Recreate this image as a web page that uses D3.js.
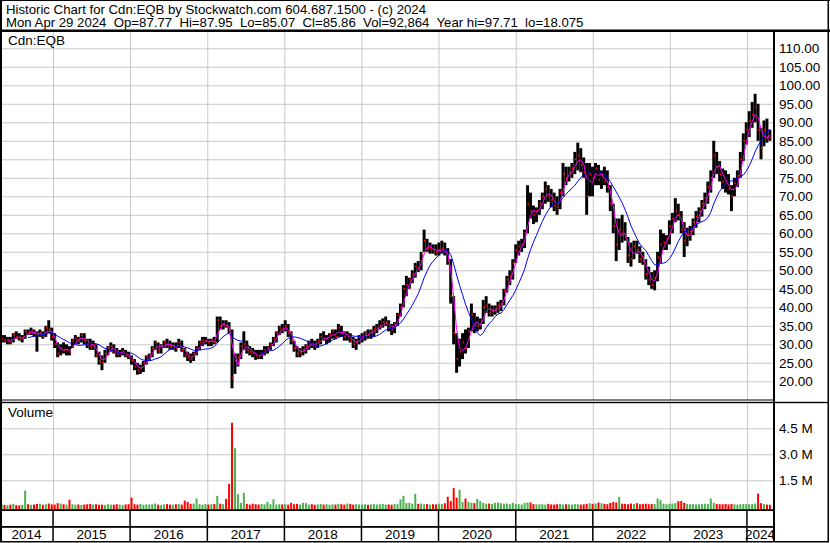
<!DOCTYPE html>
<html>
<head>
<meta charset="utf-8">
<script src="https://cdn.jsdelivr.net/npm/d3@7.9.0/dist/d3.min.js"></script>
<style>
  html, body { margin: 0; padding: 0; background: #fff; }
  svg { display: block; font-family: Arial, 'Liberation Sans', sans-serif; }
  .grid line { stroke: #c8c8c8; }
  .grid path { display: none; }
  .axis path, .axis line { display: none; }
  .axis text { fill: #000; font-size: 13.5px; }
</style>
</head>
<body>
<div id="chart"></div>
<script>
const title = 'Historic Chart for Cdn:EQB by Stockwatch.com 604.687.1500 - (c) 2024';
const quote = 'Mon Apr 29 2024  Op=87.77  Hi=87.95  Lo=85.07  Cl=85.86  Vol=92,864  Year hi=97.71  lo=18.075';
const symbol = 'Cdn:EQB';

const firstDay = new Date(2014, 3, 25);
const lastDay = new Date(2024, 3, 29);
const binDays = 14; // one bar per two weeks

const years = [2014, 2015, 2016, 2017, 2018, 2019, 2020, 2021, 2022, 2023, 2024];
const priceTicks = [20, 25, 30, 35, 40, 45, 50, 55, 60, 65, 70, 75, 80, 85, 90, 95, 100, 105, 110];
const volumeTicks = [1.5, 3.0, 4.5];

// [high, low, close] for each two-week bin
const p2014 = [
  [32.5, 30.5, 31.5], [32.5, 30.5, 31], [32, 30, 31], [32, 30, 30.5], [33, 30.5, 32.5],
  [33.5, 31.5, 32], [33, 31, 31.5], [32.5, 30.5, 31.5], [34, 31.5, 33.5], [34, 32.5, 33],
  [34.5, 32.5, 33.5], [34, 32, 33], [33.5, 28, 32.5], [34, 32, 33], [33.5, 31.5, 32],
  [35, 32, 34.5], [36.5, 33, 34], [34.5, 31, 32]
];
const p2015 = [
  [33, 29, 30], [30.5, 26.5, 27.5], [30, 27, 29], [30.5, 27.5, 28.5], [30, 27, 28.5],
  [29.5, 27, 28], [31.5, 29, 31], [32.5, 30, 31.5], [32, 30, 31], [33, 30.5, 32.5],
  [33, 30, 31], [31.5, 29, 30], [31.5, 28.5, 29.5], [31, 28.5, 30], [30, 26.5, 27],
  [28, 24.5, 25.5], [27, 23, 25], [28.5, 25, 27.5], [29.5, 27, 29], [30.5, 28, 29.5],
  [30, 27.5, 28], [29, 26.5, 27.5], [28.5, 26.5, 27.5], [29, 27, 28], [28.5, 26.5, 27],
  [28, 26, 26.5]
];
const p2016 = [
  [27, 24.5, 25.5], [26, 23, 24], [25, 21.8, 23], [24.5, 22, 23.5], [25.5, 22.5, 25],
  [27, 24.5, 26.5], [27.5, 25.5, 27], [29.5, 26.5, 29], [31, 28.5, 30.5], [30.5, 27.5, 28.5],
  [30, 27.5, 29.5], [31, 29, 30.5], [31.5, 29, 30], [31, 28.5, 29.5], [30.5, 28.5, 29.5],
  [30.5, 28, 29], [31.5, 29, 30.5], [31, 28, 28.5], [29, 26.5, 27], [28, 25.5, 26.5],
  [27.5, 25, 26], [28, 25.5, 27.5], [29.5, 27, 29], [31, 28.5, 30.5], [32, 29.5, 31],
  [32, 30, 31]
];
const p2017 = [
  [31.5, 29.5, 30.5], [31.5, 29.5, 31], [32, 30, 30.5], [37.5, 30.5, 36.5], [37.5, 34, 35],
  [36.5, 34, 35.5], [36.5, 34.5, 35], [36, 33, 34], [34, 18.1, 21], [27.5, 22, 25.5],
  [27.5, 24, 26.5], [30.5, 26, 29.5], [33.5, 28.5, 30], [31, 27.5, 28.5], [29.5, 27, 28],
  [29, 26.5, 27.5], [28.5, 25.8, 27], [28.5, 26, 26.5], [28.5, 26, 27.5], [29.5, 27, 28.5],
  [29.5, 27.5, 29], [30.5, 28.5, 30], [32, 29.5, 31.5], [33.5, 30.5, 33], [35, 32.5, 34.5],
  [35.5, 33, 34]
];
const p2018 = [
  [36.5, 33.5, 35], [35.5, 32, 33], [33.5, 30, 31], [31, 28, 29], [29.5, 26.5, 27.5],
  [29, 26.5, 28], [29.5, 27, 28.5], [30, 27.5, 29.5], [31, 28.5, 30.5], [31.5, 29, 30],
  [31, 28.5, 29.5], [31.5, 29, 31], [33, 30, 32], [33.5, 31, 31.5], [32.5, 30, 31.5],
  [33, 30.5, 32.5], [34, 31.5, 33.5], [34, 31.5, 32], [35.5, 32, 34.5], [35, 32, 33],
  [33.5, 31, 32], [33.5, 31, 32.5], [33, 30.5, 31], [32, 29, 30], [31.5, 28.5, 30.5],
  [32.5, 30, 32]
];
const p2019 = [
  [33, 30.5, 32], [33.5, 31, 33], [34, 31.5, 32.5], [34, 31.5, 33.5], [35, 32, 34],
  [35.5, 33, 34.5], [36.5, 34, 35], [37, 34.5, 36], [37.5, 35, 36], [36.5, 33.5, 34.5],
  [35.5, 32.5, 34], [36, 33, 35.5], [38.5, 35, 38], [41, 37.5, 40], [46, 40, 45],
  [48.5, 43, 46], [48, 45, 47.5], [50, 46.5, 49], [52, 48, 51], [52.5, 49.5, 50.5],
  [55, 50, 54.5], [61, 55, 58], [58.5, 55, 56], [57.5, 54.5, 56], [57, 54.5, 55.5],
  [57, 54, 55]
];
const p2020 = [
  [57.5, 54, 55.5], [58, 54.5, 56], [57.5, 54, 55], [56, 51.5, 52.5], [53, 41, 43],
  [43, 30, 33], [33, 22.3, 26], [31.5, 24, 28], [33, 26, 30.5], [34, 27.5, 29],
  [34.5, 29, 33.5], [41, 33.5, 38], [38.5, 33, 35], [37.5, 33.5, 35], [37, 34, 35.5],
  [42, 35.5, 40], [43, 38.5, 40.5], [41, 37.5, 38.5], [40.5, 37.5, 39], [40.5, 38, 39.5],
  [41.5, 38.5, 40.5], [42, 39, 41], [45, 40.5, 44.5], [48.5, 44, 47.5], [50, 46, 48.5],
  [53, 47.5, 52]
];
const p2021 = [
  [57, 52, 55.5], [58, 54, 56.5], [58.5, 55, 57], [61, 56, 60], [73, 60, 68],
  [71, 64, 66], [67.5, 62.5, 65], [67, 63, 66], [69, 65, 68], [71, 66.5, 70],
  [74, 68, 72], [73, 68.5, 70], [72, 67, 69], [71, 66, 67.5], [70, 65, 67],
  [72, 66.5, 71], [79, 70, 76], [78, 73, 75], [78, 74, 76.5], [79, 75, 77.5],
  [82, 76, 80], [84.5, 77, 81], [83, 76.5, 78.5], [80.5, 75, 76.5], [79, 65, 70],
  [79, 70, 76]
];
const p2022 = [
  [78, 70, 75], [79, 73, 77.5], [78.5, 73, 74.5], [77, 72, 76], [78, 73, 74],
  [77, 71, 72.5], [73, 66, 68], [68, 60, 62], [64, 52.5, 57], [64, 55.5, 61],
  [65, 57.5, 60], [63, 58, 59], [59, 52, 54], [57.5, 51, 53], [58, 53, 56.5],
  [58, 54.5, 55.5], [56.5, 52, 53], [55, 51.5, 52.5], [53, 47.5, 49], [51, 46, 47.5],
  [49.5, 45, 46], [50, 44.6, 48], [55, 47, 53.5], [61, 52, 57], [60, 55.5, 57.5],
  [59.5, 55.5, 58.5]
];
const p2023 = [
  [63.5, 57, 62], [65.5, 60, 64], [69.5, 63, 66], [68, 63.5, 65], [66, 60, 61],
  [63, 53.6, 58], [61.5, 56.5, 59.5], [62, 58, 60.5], [64, 59.5, 63], [66, 61.5, 64.5],
  [67, 63, 66], [69, 64.5, 68], [71, 66.5, 69.5], [74, 68, 72.5], [77, 71, 75],
  [85, 75, 81], [82, 76, 78], [79.5, 74, 76], [77.5, 72, 74], [77, 71, 73.5],
  [76, 70.5, 72], [73, 66, 70], [75, 70, 73.5], [77, 72.5, 75.5], [82, 75, 80],
  [87, 79.5, 85]
];
const p2024 = [
  [90, 84, 88], [93, 86, 90.5], [95.5, 88.5, 92], [97.71, 90, 94], [95, 85, 88],
  [88.5, 80, 83], [90.5, 83.5, 88], [91, 84.5, 86], [88, 85, 85.86]
];

// tallest daily volume in each bin, millions
const v2014 = [0.12, 0.08, 0.06, 0.1, 0.15, 0.07, 0.05, 0.09, 0.9, 0.12, 0.08, 0.1, 0.14, 0.15, 0.09, 0.12, 0.16, 0.11];
const v2015 = [0.1, 0.18, 0.16, 0.12, 0.1, 0.38, 0.12, 0.09, 0.11, 0.08, 0.1, 0.12, 0.14, 0.1, 0.12, 0.09, 0.1, 0.08, 0.13, 0.1, 0.09, 0.12, 0.1, 0.08, 0.11, 0.12];
const v2016 = [0.5, 0.12, 0.1, 0.14, 0.09, 0.11, 0.1, 0.12, 0.16, 0.1, 0.08, 0.11, 0.13, 0.1, 0.09, 0.12, 0.14, 0.1, 0.33, 0.25, 0.14, 0.16, 0.45, 0.12, 0.1, 0.13];
const v2017 = [0.1, 0.12, 0.14, 0.6, 0.15, 0.12, 0.43, 1.29, 4.82, 3.35, 0.7, 0.2, 0.78, 0.14, 0.1, 0.15, 0.12, 0.1, 0.13, 0.11, 0.25, 0.12, 0.4, 0.1, 0.12, 0.11];
const v2018 = [0.12, 0.1, 0.2, 0.12, 0.14, 0.1, 0.2, 0.18, 0.1, 0.12, 0.09, 0.11, 0.13, 0.1, 0.12, 0.09, 0.11, 0.1, 0.14, 0.12, 0.1, 0.16, 0.13, 0.1, 0.12, 0.11];
const v2019 = [0.1, 0.12, 0.09, 0.11, 0.13, 0.1, 0.12, 0.14, 0.1, 0.11, 0.09, 0.13, 0.12, 0.4, 0.6, 0.18, 0.2, 0.15, 0.72, 0.14, 0.16, 0.12, 0.13, 0.1, 0.12, 0.11];
const v2020 = [0.15, 0.14, 0.18, 0.55, 0.3, 1.05, 0.5, 0.95, 0.25, 0.45, 0.25, 0.2, 0.18, 0.43, 0.3, 0.2, 0.15, 0.16, 0.14, 0.2, 0.22, 0.18, 0.15, 0.16, 0.12, 0.2];
const v2021 = [0.14, 0.12, 0.1, 0.2, 0.22, 0.22, 0.13, 0.11, 0.12, 0.12, 0.1, 0.14, 0.11, 0.1, 0.12, 0.13, 0.1, 0.12, 0.11, 0.1, 0.13, 0.12, 0.1, 0.11, 0.14, 0.18];
const v2022 = [0.14, 0.16, 0.22, 0.18, 0.14, 0.12, 0.2, 0.25, 0.22, 0.55, 0.15, 0.14, 0.12, 0.16, 0.13, 0.18, 0.12, 0.14, 0.15, 0.12, 0.14, 0.13, 0.45, 0.35, 0.15, 0.12];
const v2023 = [0.14, 0.16, 0.18, 0.3, 0.3, 0.2, 0.14, 0.12, 0.13, 0.11, 0.12, 0.14, 0.15, 0.13, 0.45, 0.2, 0.14, 0.12, 0.12, 0.13, 0.11, 0.14, 0.12, 0.1, 0.12, 0.13];
const v2024 = [0.14, 0.12, 0.13, 0.16, 0.73, 0.18, 0.12, 0.1, 0.09];

const shortAvg = 3;  // bins, magenta
const longAvg = 10;  // bins, blue

const prices = [p2014, p2015, p2016, p2017, p2018, p2019, p2020, p2021, p2022, p2023, p2024].flat();
const volumes = [v2014, v2015, v2016, v2017, v2018, v2019, v2020, v2021, v2022, v2023, v2024].flat();

const bars = prices.map(([high, low, close], i) => {
    const date = d3.timeDay.offset(firstDay, i * binDays);
    return {
        date,
        next: d3.timeDay.offset(date, binDays),
        high,
        low,
        close,
        volume: volumes[i],
        up: i === 0 || close >= prices[i - 1][2],
    };
});

function movingAverage(n) {
    const closes = bars.map(d => d.close);
    return bars.map((d, i) => ({
        date: d.date,
        next: d.next,
        value: i < n - 1 ? null : d3.mean(closes.slice(i - n + 1, i + 1)),
    }));
}

const width = 830;
const height = 543;
const plotRight = 773;
const pricePanel = { top: 32, bottom: 400 };
const volumePanel = { top: 403, bottom: 509 };
const band = { top: 510, mid: 527, bottom: 541 };

const svg = d3.select('#chart')
    .append('svg')
    .attr('width', width)
    .attr('height', height);

svg.append('rect')
    .attr('width', width)
    .attr('height', height)
    .attr('fill', '#fff');

const x = d3.scaleTime()
    .domain([firstDay, lastDay])
    .range([0, 772]);

const yPrice = d3.scaleLinear()
    .domain([20, 110])
    .range([381.3, 48.3]);

const yVol = d3.scaleLinear()
    .domain([0, 4.5])
    .range([506.3, 428.3]);

const yearStarts = years.slice(1).map(y => new Date(y, 0, 1));

// Gridlines
svg.append('g')
    .attr('class', 'grid')
    .attr('transform', `translate(${plotRight}, 0)`)
    .call(d3.axisLeft(yPrice).tickValues(priceTicks).tickSize(plotRight).tickFormat(''));

svg.append('g')
    .attr('class', 'grid')
    .attr('transform', `translate(${plotRight}, 0)`)
    .call(d3.axisLeft(yVol).tickValues(volumeTicks).tickSize(plotRight).tickFormat(''));

svg.append('g')
    .attr('class', 'grid')
    .attr('transform', `translate(0, ${pricePanel.top})`)
    .call(d3.axisBottom(x).tickValues(yearStarts).tickSize(pricePanel.bottom - pricePanel.top).tickFormat(''));

svg.append('g')
    .attr('class', 'grid')
    .attr('transform', `translate(0, ${volumePanel.top})`)
    .call(d3.axisBottom(x).tickValues(yearStarts).tickSize(volumePanel.bottom - volumePanel.top).tickFormat(''));

// Price bars
svg.append('g')
    .selectAll('rect')
    .data(bars)
    .join('rect')
    .attr('x', d => x(d.date))
    .attr('width', d => x(d.next) - x(d.date))
    .attr('y', d => yPrice(d.high))
    .attr('height', d => yPrice(d.low) - yPrice(d.high))
    .attr('fill', '#000');

// Close ticks
svg.append('g')
    .selectAll('rect')
    .data(bars)
    .join('rect')
    .attr('x', d => x(d.next) - 1.5)
    .attr('width', 1.5)
    .attr('y', d => yPrice(d.close) - 1)
    .attr('height', 2)
    .attr('fill', '#ff0000');

// Moving averages
const maLine = d3.line()
    .defined(d => d.value != null)
    .x(d => (x(d.date) + x(d.next)) / 2)
    .y(d => yPrice(d.value));

svg.append('path')
    .datum(movingAverage(shortAvg))
    .attr('d', maLine)
    .attr('fill', 'none')
    .attr('stroke', '#ff00ff')
    .attr('stroke-width', 1);

svg.append('path')
    .datum(movingAverage(longAvg))
    .attr('d', maLine)
    .attr('fill', 'none')
    .attr('stroke', '#0000ff')
    .attr('stroke-width', 1);

// Volume bars
svg.append('g')
    .selectAll('rect')
    .data(bars)
    .join('rect')
    .attr('x', d => x(d.date) + 0.5)
    .attr('width', 2)
    .attr('y', d => yVol(d.volume))
    .attr('height', d => volumePanel.bottom - yVol(d.volume))
    .attr('fill', d => d.up ? '#4caf50' : '#ff0000');

// Frame and panel separators
const black = (x0, y0, w, h) => svg.append('rect')
    .attr('x', x0).attr('y', y0).attr('width', w).attr('height', h).attr('fill', '#000');

black(0, 0, width, 1);
black(0, 0, 2, band.bottom + 1);
black(827.5, 0, 1.5, band.bottom + 1);
black(0, band.bottom, 829, 1.5);
black(0, 29.5, width, 2.5);
black(plotRight, 32, 2, band.bottom - 32);
black(0, 399.5, plotRight, 1);
black(0, 401.8, 829, 1.4);
black(0, 509.2, plotRight, 1.8);
black(0, 526, plotRight, 1.8);

svg.append('g')
    .selectAll('rect')
    .data(yearStarts)
    .join('rect')
    .attr('x', d => x(d) - 0.7)
    .attr('width', 1.5)
    .attr('y', band.top)
    .attr('height', band.bottom - band.top)
    .attr('fill', '#000');

// Right axis labels
svg.append('g')
    .attr('class', 'axis')
    .attr('transform', `translate(${plotRight + 2}, 0)`)
    .call(d3.axisRight(yPrice).tickValues(priceTicks).tickSize(0).tickPadding(4).tickFormat(d3.format('.2f')));

svg.append('g')
    .attr('class', 'axis')
    .attr('transform', `translate(${plotRight + 2}, 0)`)
    .call(d3.axisRight(yVol).tickValues(volumeTicks).tickSize(0).tickPadding(4).tickFormat(d => d3.format('.1f')(d) + ' M'));

// Year labels
svg.append('g')
    .selectAll('text')
    .data(years)
    .join('text')
    .attr('x', y => {
        const a = Math.max(x(new Date(y, 0, 1)), 0);
        const b = Math.min(x(new Date(y + 1, 0, 1)), plotRight);
        return (a + b) / 2;
    })
    .attr('y', 539)
    .attr('text-anchor', 'middle')
    .attr('font-size', 13.5)
    .text(y => y);

// Header and panel titles
const label = (tx, ty, t, size) => svg.append('text')
    .attr('x', tx).attr('y', ty)
    .attr('font-size', size)
    .attr('xml:space', 'preserve')
    .style('white-space', 'pre')
    .text(t);

label(6, 13.8, title, 13.2);
label(6, 26.6, quote, 13.2);
label(8, 45, symbol, 13.5);
label(8, 417, 'Volume', 13.5);
</script>
</body>
</html>
